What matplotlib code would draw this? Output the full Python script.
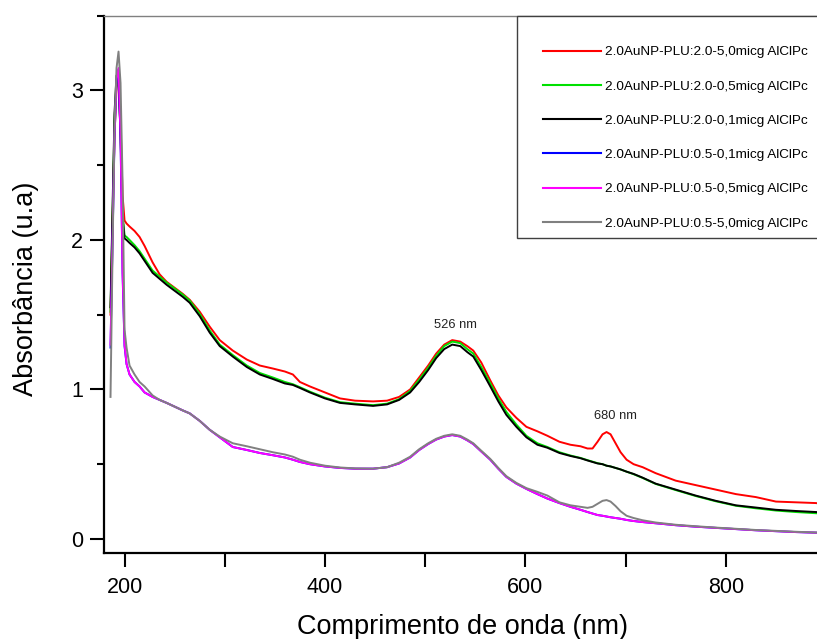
import matplotlib
matplotlib.use("Agg")
import matplotlib.pyplot as plt
from matplotlib.patches import Rectangle
from matplotlib.ticker import MultipleLocator

plt.rcParams['font.family'] = ['Liberation Sans', 'DejaVu Sans']

# wavelength grid (nm) shared by all spectra
wl = [186, 188, 190, 192, 194, 196, 198, 200, 202, 205, 210, 215, 220, 228, 235, 242,
      250, 258, 265, 275, 285, 295, 308, 322, 335, 348, 360, 368, 375, 385, 400, 415,
      430, 448, 462, 474, 485, 494, 503, 511, 519, 527, 535, 542, 548, 556, 565, 573,
      581, 591, 601, 612, 622, 634, 645, 655, 662, 667, 672, 677, 681, 685, 690, 695,
      701, 708, 717, 730, 750, 770, 790, 810, 830, 850, 870, 890, 895]

abs_20_50 = [1.50, 2.10, 2.70, 3.02, 3.08, 2.80, 2.30, 2.13, 2.11, 2.09, 2.06, 2.02, 1.96, 1.85, 1.77, 1.72,
             1.68, 1.64, 1.60, 1.52, 1.42, 1.33, 1.26, 1.20, 1.16, 1.14, 1.12, 1.10, 1.05, 1.02, 0.98, 0.94,
             0.925, 0.92, 0.925, 0.95, 1.00, 1.08, 1.16, 1.24, 1.30, 1.33, 1.32, 1.29, 1.26, 1.18, 1.06, 0.96,
             0.88, 0.81, 0.75, 0.72, 0.69, 0.65, 0.63, 0.62, 0.605, 0.605, 0.65, 0.70, 0.715, 0.70, 0.64, 0.58,
             0.53, 0.50, 0.48, 0.44, 0.39, 0.36, 0.33, 0.30, 0.28, 0.25, 0.245, 0.24, 0.235]

abs_20_05 = [1.52, 2.15, 2.80, 3.06, 3.06, 2.72, 2.18, 2.03, 2.02, 2.00, 1.965, 1.925, 1.875, 1.795, 1.755, 1.715,
             1.675, 1.635, 1.595, 1.505, 1.395, 1.30, 1.23, 1.16, 1.11, 1.08, 1.05, 1.035, 1.015, 0.985, 0.945, 0.915,
             0.905, 0.895, 0.905, 0.935, 0.99, 1.065, 1.145, 1.225, 1.29, 1.32, 1.31, 1.27, 1.24, 1.15, 1.04, 0.94,
             0.85, 0.765, 0.69, 0.64, 0.615, 0.58, 0.558, 0.542, 0.527, 0.517, 0.507, 0.50, 0.49, 0.485, 0.475, 0.465,
             0.45, 0.433, 0.408, 0.368, 0.327, 0.287, 0.252, 0.222, 0.205, 0.19, 0.18, 0.172, 0.17]

abs_20_01 = [1.55, 2.20, 2.85, 3.10, 3.08, 2.70, 2.15, 2.01, 2.00, 1.98, 1.95, 1.91, 1.86, 1.78, 1.74, 1.70,
             1.66, 1.62, 1.58, 1.49, 1.38, 1.29, 1.22, 1.15, 1.10, 1.07, 1.04, 1.03, 1.01, 0.98, 0.94, 0.91,
             0.90, 0.89, 0.90, 0.93, 0.98, 1.05, 1.13, 1.21, 1.27, 1.30, 1.29, 1.25, 1.22, 1.13, 1.02, 0.92,
             0.83, 0.75, 0.68, 0.63, 0.61, 0.575, 0.555, 0.54, 0.525, 0.515, 0.505, 0.50, 0.49, 0.485, 0.475, 0.465,
             0.45, 0.435, 0.41, 0.37, 0.33, 0.29, 0.255, 0.225, 0.21, 0.195, 0.187, 0.18, 0.178]

abs_05_01 = [1.28, 1.98, 2.68, 3.07, 3.14, 2.68, 1.78, 1.29, 1.17, 1.10, 1.05, 1.02, 0.98, 0.95, 0.93, 0.91,
             0.885, 0.86, 0.84, 0.79, 0.73, 0.68, 0.615, 0.595, 0.575, 0.56, 0.545, 0.53, 0.515, 0.50, 0.485, 0.475,
             0.47, 0.47, 0.48, 0.505, 0.545, 0.595, 0.635, 0.665, 0.685, 0.695, 0.685, 0.66, 0.635, 0.585, 0.53, 0.47,
             0.415, 0.37, 0.335, 0.30, 0.27, 0.24, 0.215, 0.195, 0.18, 0.17, 0.16, 0.155, 0.15, 0.145, 0.14, 0.135,
             0.127, 0.12, 0.113, 0.105, 0.092, 0.082, 0.074, 0.066, 0.058, 0.052, 0.046, 0.042, 0.041]

abs_05_05 = [1.30, 2.00, 2.70, 3.08, 3.15, 2.70, 1.80, 1.30, 1.17, 1.10, 1.05, 1.02, 0.98, 0.95, 0.93, 0.91,
             0.885, 0.86, 0.84, 0.79, 0.73, 0.68, 0.615, 0.595, 0.575, 0.56, 0.545, 0.53, 0.515, 0.50, 0.485, 0.475,
             0.47, 0.47, 0.48, 0.505, 0.545, 0.595, 0.635, 0.665, 0.685, 0.695, 0.685, 0.66, 0.635, 0.585, 0.53, 0.47,
             0.415, 0.37, 0.335, 0.30, 0.27, 0.24, 0.215, 0.195, 0.18, 0.17, 0.16, 0.155, 0.15, 0.145, 0.14, 0.135,
             0.127, 0.12, 0.113, 0.105, 0.092, 0.082, 0.074, 0.066, 0.058, 0.052, 0.046, 0.042, 0.041]

abs_05_50 = [0.95, 1.90, 2.75, 3.15, 3.26, 3.05, 2.40, 1.40, 1.28, 1.16, 1.10, 1.05, 1.02, 0.96, 0.93, 0.91,
             0.885, 0.86, 0.84, 0.79, 0.73, 0.685, 0.64, 0.62, 0.60, 0.58, 0.565, 0.55, 0.53, 0.51, 0.49, 0.478,
             0.472, 0.47, 0.48, 0.51, 0.55, 0.60, 0.64, 0.67, 0.69, 0.70, 0.69, 0.665, 0.64, 0.59, 0.535, 0.475,
             0.42, 0.375, 0.34, 0.315, 0.29, 0.245, 0.225, 0.215, 0.208, 0.215, 0.235, 0.255, 0.26, 0.25, 0.22, 0.185,
             0.155, 0.14, 0.125, 0.11, 0.095, 0.085, 0.076, 0.068, 0.06, 0.054, 0.048, 0.043, 0.042]

labels = ["2.0AuNP-PLU:2.0-5,0micg AlClPc",
          "2.0AuNP-PLU:2.0-0,5micg AlClPc",
          "2.0AuNP-PLU:2.0-0,1micg AlClPc",
          "2.0AuNP-PLU:0.5-0,1micg AlClPc",
          "2.0AuNP-PLU:0.5-0,5micg AlClPc",
          "2.0AuNP-PLU:0.5-5,0micg AlClPc"]
series = [abs_20_50, abs_20_05, abs_20_01, abs_05_01, abs_05_05, abs_05_50]
colors = ["#ff0000", "#00e000", "#000000", "#0000ff", "#ff00ff", "#808080"]

fig = plt.figure(figsize=(8.17, 6.39), dpi=100)
ax = fig.add_axes([104 / 817, 86 / 639, 717 / 817, 537.3 / 639])

for y, c, lab in zip(series, colors, labels):
    ax.plot(wl, y, color=c, lw=1.4, label=lab)

ax.set_xlim(179.5, 895)
ax.set_ylim(-0.094, 3.5)

ax.xaxis.set_major_locator(MultipleLocator(200))
ax.xaxis.set_minor_locator(MultipleLocator(100))
ax.yaxis.set_major_locator(MultipleLocator(1))
ax.yaxis.set_minor_locator(MultipleLocator(0.5))
ax.tick_params(which='major', direction='out', length=10, width=1.5, labelsize=15.5, pad=5)
ax.tick_params(axis='x', which='major', pad=7)
ax.tick_params(axis='x', which='minor', direction='out', length=10, width=1.5)
ax.tick_params(axis='y', which='minor', direction='out', length=5, width=1.5)
ax.tick_params(top=False, right=False, which='both')

for s in ('left', 'bottom'):
    ax.spines[s].set_linewidth(1.6)
ax.spines['right'].set_visible(False)
ax.spines['top'].set_color('#808080')
ax.spines['top'].set_linewidth(1.0)

ax.set_xlabel("Comprimento de onda (nm)", fontsize=19.5, labelpad=12)
ax.set_ylabel("Absorbância (u.a)", fontsize=19.5)
ax.yaxis.set_label_coords(-0.0906, 0.4925)

ax.text(530.5, 1.43, "526 nm", fontsize=9.3, ha='center', va='center', color='#222222')
ax.text(690, 0.82, "680 nm", fontsize=9.3, ha='center', va='center', color='#222222')

# legend box sits against the top spine and runs past the right edge
ax.add_patch(Rectangle((413 / 717, (553 - 238) / 537.3), 0.5, 1 - (553 - 238) / 537.3,
                       transform=ax.transAxes, facecolor='white', edgecolor='#404040',
                       lw=1.0, clip_on=False, zorder=5))
leg = ax.legend(loc='upper left', bbox_to_anchor=(439 / 717, (553 - 46) / 537.3),
                frameon=False, fontsize=9.7, handlelength=4.3, handletextpad=0.3,
                labelspacing=1.62, borderpad=0, borderaxespad=0)
leg.set_zorder(6)
for h in leg.get_lines():
    h.set_linewidth(1.5)

fig.savefig("out.png", dpi=100)
